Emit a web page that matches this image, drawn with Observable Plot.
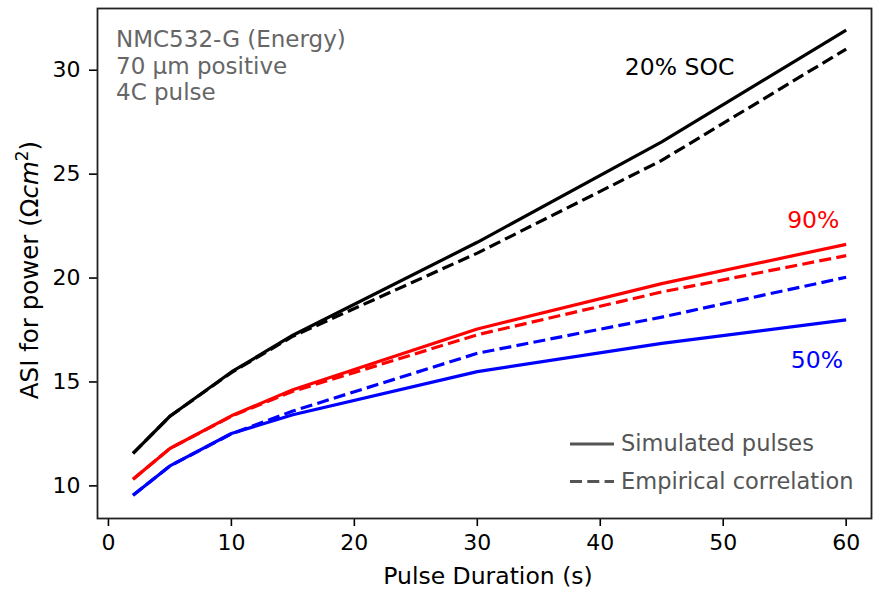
<!DOCTYPE html>
<html>
<head>
<meta charset="utf-8">
<script src="https://cdn.jsdelivr.net/npm/d3@7"></script>
<script src="https://cdn.jsdelivr.net/npm/@observablehq/plot@0.6"></script>
<style>
  html, body { margin: 0; padding: 0; background: #fff; }
  #chart { position: relative; width: 873px; height: 590px; }
</style>
</head>
<body>
<div id="chart"></div>
<script>
// Pulse durations (s)
const duration = [2, 5, 10, 15, 30, 45, 60];
// ASI for power (ohm cm^2)
const sim20 = [11.56, 13.35, 15.48, 17.25, 21.72, 26.55, 31.93];
const emp20 = [11.56, 13.35, 15.45, 17.20, 21.20, 25.66, 31.02];
const sim90 = [10.32, 11.80, 13.37, 14.63, 17.55, 19.73, 21.62];
const emp90 = [10.32, 11.80, 13.35, 14.55, 17.27, 19.33, 21.08];
const sim50 = [9.55, 10.96, 12.52, 13.42, 15.50, 16.86, 17.99];
const emp50 = [9.55, 10.96, 12.50, 13.60, 16.38, 18.12, 20.04];

const socNames = ["20%", "90%", "50%"];
const socColors = ["#000000", "#ff0000", "#0000ff"];
const labelText = ["20% SOC", "90%", "50%"];
const labelX = [42.0, 55.2, 55.5];
const labelY = [29.79, 22.40, 15.69];
const xTicks = [0, 10, 20, 30, 40, 50, 60];
const yTicks = [10, 15, 20, 25, 30];
const infoText = "NMC532-G (Energy)\n70 µm positive\n4C pulse";
const legendNames = ["Simulated pulses", "Empirical correlation"];

const simSets = [sim20, sim90, sim50];
const empSets = [emp20, emp90, emp50];
const rows = [];
socNames.forEach((s, i) => {
  duration.forEach((d, j) => {
    rows.push({soc: s, kind: "sim", x: d, y: simSets[i][j]});
    rows.push({soc: s, kind: "emp", x: d, y: empSets[i][j]});
  });
});
const labels = labelText.map((t, i) => ({t, x: labelX[i], y: labelY[i], c: socColors[i]}));

const font = "DejaVu Sans, sans-serif";
const plot = Plot.plot({
  width: 873,
  height: 590,
  marginLeft: 97,
  marginRight: 2,
  marginTop: 8,
  marginBottom: 72,
  style: {fontFamily: font, fontSize: "22px", color: "#000", background: "#fff"},
  x: {domain: [-0.89, 62.06]},
  y: {domain: [8.43, 32.97]},
  color: {domain: socNames, range: socColors},
  marks: [
    Plot.axisX({ticks: xTicks, tickSize: 8, tickPadding: 8, fontSize: 22, label: null, stroke: "#000", strokeWidth: 1.6}),
    Plot.axisY({ticks: yTicks, tickSize: 8, tickPadding: 9, fontSize: 22, label: null, stroke: "#000", strokeWidth: 1.6}),
    Plot.line(rows.filter(d => d.kind === "sim"), {x: "x", y: "y", z: "soc", stroke: "soc", strokeWidth: 3.2, strokeLinecap: "butt"}),
    Plot.line(rows.filter(d => d.kind === "emp"), {x: "x", y: "y", z: "soc", stroke: "soc", strokeWidth: 3.2, strokeDasharray: "12,5.3", strokeLinecap: "butt"}),
    Plot.text(labels, {x: "x", y: "y", text: "t", fill: "c", textAnchor: "start", lineAnchor: "bottom", fontSize: 23.5}),
    Plot.text([infoText], {frameAnchor: "top-left", dx: 18.5, dy: 19, lineAnchor: "top", textAnchor: "start", lineHeight: 1.17, fill: "#666", fontSize: 23}),
    Plot.frame({stroke: "#222", strokeWidth: 1.8})
  ]
});
document.getElementById("chart").appendChild(plot);

const svg = d3.select(plot);
// x-axis title
svg.append("text")
  .attr("x", 488).attr("y", 584)
  .attr("text-anchor", "middle")
  .attr("font-family", font).attr("font-size", 23.5).attr("fill", "#000")
  .text("Pulse Duration (s)");
// y-axis title with math-style unit
const yl = svg.append("text")
  .attr("transform", "translate(38,270) rotate(-90)")
  .attr("text-anchor", "middle")
  .attr("font-family", font).attr("font-size", 24.5).attr("fill", "#000");
yl.append("tspan").text("ASI for power (Ω");
yl.append("tspan").attr("font-style", "italic").text("cm");
yl.append("tspan").attr("font-size", 17).attr("dy", -10).text("2");
yl.append("tspan").attr("dy", 10).text(")");

// legend
const lg = svg.append("g").attr("font-family", font).attr("font-size", 22.5).attr("text-anchor", "start");
legendNames.forEach((name, i) => {
  const y = 444 + i * 37.5;
  lg.append("line").attr("x1", 570).attr("x2", 614).attr("y1", y).attr("y2", y)
    .attr("stroke", "#555").attr("stroke-width", 3.2)
    .attr("stroke-dasharray", i === 1 ? "12,5.3" : null);
  lg.append("text").attr("x", 621).attr("y", y + 7).attr("fill", "#555")
    .attr("text-anchor", "start").text(name);
});
</script>
</body>
</html>
